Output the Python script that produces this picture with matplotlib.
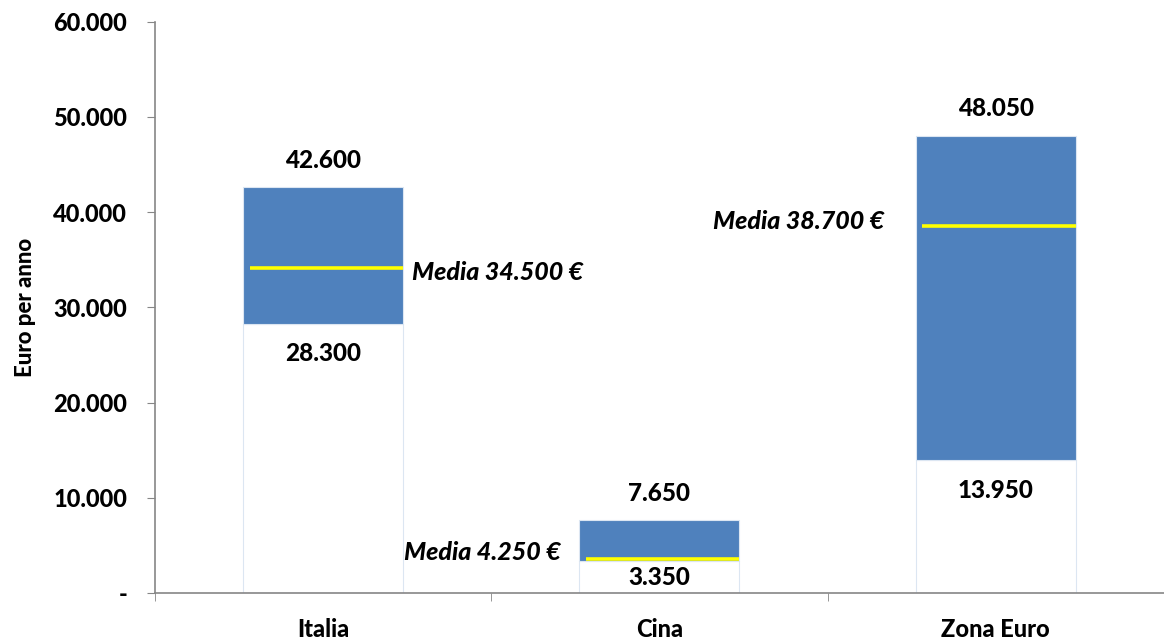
import numpy as np
import matplotlib
matplotlib.use("Agg")
import matplotlib.pyplot as plt
from matplotlib.ticker import FuncFormatter

plt.rcParams['font.family'] = ['Lato', 'DejaVu Sans']
plt.rcParams['font.weight'] = 'black'
W = 'black'

# dati
categories = ['Italia', 'Cina', 'Zona Euro']
low = [28300, 3350, 13950]
high = [42600, 7650, 48050]
media_label = [34500, 4250, 38700]
media_line = [34100, 3550, 38550]   # posizione della linea gialla come appare nel grafico

def fmt(v):
    return f"{v:,.0f}".replace(",", ".")

fs = 17
fs_val = 17.5
fs_med = 18
fig = plt.figure(figsize=(11.64, 6.41), dpi=100)
ax = fig.add_axes([0.133, 0.075, 0.867, 0.891])

x = np.arange(len(categories))
w = 0.476
blue = '#4F81BD'

# parte bassa (bianca) + parte alta (blu)
ax.bar(x, low, width=w, color='white', edgecolor='#DCE6F2', linewidth=0.8)
ax.bar(x, np.array(high) - np.array(low), bottom=low, width=w, color=blue,
       edgecolor='#DCE6F2', linewidth=0.8)

# linee media
for i in range(len(categories)):
    ax.plot([x[i] - w / 2 + 0.02, x[i] + w / 2], [media_line[i]] * 2,
            color='#FFFF00', lw=2.6, solid_capstyle='butt', zorder=3)

# etichette valori
for i in range(len(categories)):
    ax.text(x[i], high[i] + 2840, fmt(high[i]), ha='center', va='center',
            fontsize=fs_val, fontweight=W)
    ax.text(x[i], max(low[i] - 3150, 1600), fmt(low[i]), ha='center', va='center',
            fontsize=fs_val, fontweight=W)

# etichette media
ax.text(x[0] + w / 2 + 0.027, 33700, f"Media {fmt(media_label[0])} €",
        ha='left', va='center', fontsize=fs_med, style='italic', fontweight=W)
ax.text(x[1] - w / 2 - 0.056, 4200, f"Media {fmt(media_label[1])} €",
        ha='right', va='center', fontsize=fs_med, style='italic', fontweight=W)
ax.text(x[2] - w / 2 - 0.095, 38970, f"Media {fmt(media_label[2])} €",
        ha='right', va='center', fontsize=fs_med, style='italic', fontweight=W)

ax.set_xlim(-0.5, 2.49)
ax.set_ylim(0, 60000)
ax.set_yticks(np.arange(0, 60001, 10000))
ax.yaxis.set_major_formatter(FuncFormatter(lambda v, p: '-' if v == 0 else fmt(v)))
ax.set_xticks(x)
ax.set_xticklabels(categories, fontsize=fs, fontweight=W)
ax.set_xticks([-0.5, 0.5, 1.5, 2.5], minor=True)
ax.tick_params(axis='x', which='major', length=0, pad=18)
ax.tick_params(axis='x', which='minor', length=6, color='#868686', direction='out')
ax.tick_params(axis='y', labelsize=fs, length=6, color='#868686', pad=14)
for lab in ax.get_yticklabels():
    lab.set_fontweight(W)

for s in ['top', 'right']:
    ax.spines[s].set_visible(False)
for s in ['left', 'bottom']:
    ax.spines[s].set_color('#868686')
    ax.spines[s].set_linewidth(1.2)

ax.set_ylabel('Euro per anno', fontsize=16, fontweight=W, labelpad=12)

fig.savefig('out.png', dpi=100)
